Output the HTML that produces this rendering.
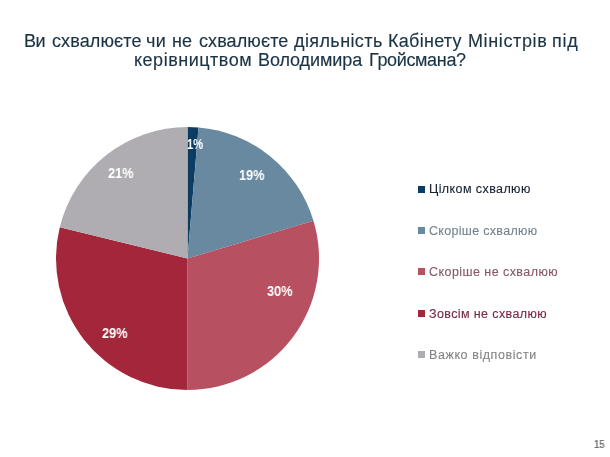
<!DOCTYPE html>
<html>
<head>
<meta charset="utf-8">
<style>
html,body{margin:0;padding:0;}
body{-webkit-font-smoothing:antialiased;width:610px;height:457px;overflow:hidden;background:#fff;position:relative;font-family:"Liberation Sans",sans-serif;}
.t{will-change:transform;position:absolute;white-space:nowrap;line-height:1;}
.tw{position:absolute;white-space:nowrap;line-height:1;will-change:transform;font-size:18px;color:#1a3345;-webkit-text-stroke:0.15px #1a3345;}
.lbl{will-change:transform;position:absolute;white-space:nowrap;line-height:1;font-weight:bold;font-size:14px;color:#fff;transform:scaleX(0.91);transform-origin:0 0;}
.sq{position:absolute;width:7px;height:7px;left:418px;}
.lg{-webkit-text-stroke:0.12px currentColor;will-change:transform;position:absolute;white-space:nowrap;line-height:1;font-size:12.5px;left:429px;}
#pg{font-size:10px;color:#5e5e5e;-webkit-text-stroke:0.2px #5e5e5e;transform:scaleX(0.95);transform-origin:0 0;}
svg{position:absolute;left:0;top:0;}
</style>
</head>
<body>
<svg width="610" height="457" viewBox="0 0 610 457">
<path d="M187.5,258.5 L187.50,127.00 A131.5,131.5 0 0 1 198.50,127.46 Z" fill="#0b3d63"/>
<path d="M187.5,258.5 L198.50,127.46 A131.5,131.5 0 0 1 313.45,220.71 Z" fill="#6889a0"/>
<path d="M187.5,258.5 L313.45,220.71 A131.5,131.5 0 0 1 187.50,390.00 Z" fill="#b75061"/>
<path d="M187.5,258.5 L187.50,390.00 A131.5,131.5 0 0 1 59.80,227.13 Z" fill="#a3263b"/>
<path d="M187.5,258.5 L59.80,227.13 A131.5,131.5 0 0 1 187.50,127.00 Z" fill="#afadb2"/>
</svg>
<div class="tw" style="left:23.9px;top:31.9px;letter-spacing:-0.5px;">Ви</div>
<div class="tw" style="left:51.6px;top:31.9px;letter-spacing:0.113px;">схвалюєте</div>
<div class="tw" style="left:146.2px;top:31.9px;letter-spacing:0.4px;">чи</div>
<div class="tw" style="left:172.4px;top:31.9px;letter-spacing:0.0px;">не</div>
<div class="tw" style="left:199.4px;top:31.9px;letter-spacing:0.088px;">схвалюєте</div>
<div class="tw" style="left:294.2px;top:31.9px;letter-spacing:0.4px;">діяльність</div>
<div class="tw" style="left:388.2px;top:31.9px;letter-spacing:0.286px;">Кабінету</div>
<div class="tw" style="left:467.9px;top:31.9px;letter-spacing:0.625px;">Міністрів</div>
<div class="tw" style="left:552.1px;top:31.9px;letter-spacing:0.75px;">під</div>
<div class="tw" style="left:134.2px;top:51.2px;letter-spacing:0.518px;">керівництвом</div>
<div class="tw" style="left:257.8px;top:51.2px;letter-spacing:-0.089px;">Володимира</div>
<div class="tw" style="left:369.1px;top:51.2px;letter-spacing:-0.344px;">Гройсмана?</div>

<div class="lbl" id="l1" style="left:187px;top:137.3px;transform:scaleX(0.8);">1%</div>
<div class="lbl" id="l19" style="left:238.9px;top:167.9px;">19%</div>
<div class="lbl" id="l30" style="left:266.6px;top:284.2px;">30%</div>
<div class="lbl" id="l29" style="left:101.6px;top:325.8px;">29%</div>
<div class="lbl" id="l21" style="left:108.4px;top:166.2px;">21%</div>

<div class="sq" style="top:186px;background:#0b3d63;"></div>
<div class="lg" id="g1" style="letter-spacing:0.41px;top:183px;color:#16212d;">Цілком схвалюю</div>
<div class="sq" style="top:227px;background:#6889a0;"></div>
<div class="lg" id="g2" style="letter-spacing:0.31px;top:224.5px;color:#72838e;">Скоріше схвалюю</div>
<div class="sq" style="top:268px;background:#b75061;"></div>
<div class="lg" id="g3" style="letter-spacing:0.44px;top:266px;color:#865865;">Скоріше не схвалюю</div>
<div class="sq" style="top:310px;background:#a3263b;"></div>
<div class="lg" id="g4" style="letter-spacing:0.39px;top:308px;color:#742940;">Зовсім не схвалюю</div>
<div class="sq" style="top:351px;background:#afadb2;"></div>
<div class="lg" id="g5" style="letter-spacing:0.58px;top:349px;color:#848487;">Важко відповісти</div>

<div class="t" id="pg" style="left:594px;top:440px;">15</div>
</body>
</html>
